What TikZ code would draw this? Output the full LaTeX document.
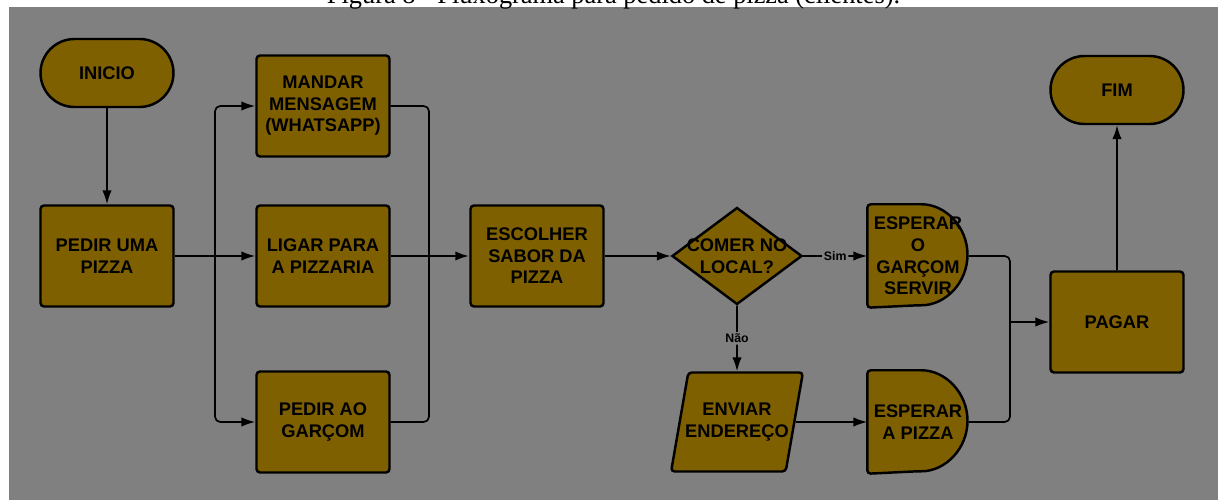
\documentclass[tikz,border=0pt]{standalone}
\usepackage{fontspec}
\setmainfont{Liberation Sans}
\newfontfamily\captionfont{Liberation Serif}
\usetikzlibrary{positioning}
\usetikzlibrary{calc}
\usetikzlibrary{arrows.meta,shapes.geometric,shapes.misc,backgrounds}

\definecolor{boxfill}{HTML}{7F6000}
\definecolor{bggray}{HTML}{808080}

\tikzset{
  boxline/.style={draw=black, line width=1.4pt, fill=boxfill},
  stepbox/.style={boxline, rectangle, rounded corners=2pt, minimum width=2.66cm, minimum height=2.02cm, align=center, inner sep=0pt, font=\fontsize{10.4}{12.3}\selectfont\bfseries},
  endbox/.style={stepbox, rounded rectangle, sharp corners, minimum height=1.36cm},
  choice/.style={stepbox, diamond, sharp corners, aspect=1, inner xsep=-0.6cm, minimum width=2.6cm, minimum height=1.94cm},
  inputbox/.style={stepbox, trapezium, trapezium left angle=76, trapezium right angle=104, trapezium stretches=true, minimum width=2.64cm, minimum height=1.98cm, inner xsep=-0.5cm},
  waitbox/.style={stepbox, draw=none, fill=none, minimum width=1.98cm},
  flow/.style={line width=0.95pt, rounded corners=3pt},
  trunk/.style={flow, line width=1.5pt},
  tag/.style={fill=bggray, inner sep=1pt, font=\fontsize{7}{8}\selectfont\bfseries}
}

\begin{document}
\begin{tikzpicture}[>={Latex[length=2.8mm,width=1.9mm]}]
\useasboundingbox (0,0) rectangle (24.36,-10);

\node[anchor=base, font=\captionfont\fontsize{15}{18}\selectfont] (titulo) at (12.27,-0.07){Figura 8 - Fluxograma para pedido de pizza (clientes).};

\node[endbox] (inicio) at (2.14,-1.46){INICIO};
\node[stepbox] (pedir) at (2.14,-5.12){PEDIR UMA\\PIZZA};
\node[stepbox] (mandar) at (6.46,-2.12){MANDAR\\MENSAGEM\\(WHATSAPP)};
\node[stepbox] (ligar) at (6.46,-5.12){LIGAR PARA\\A PIZZARIA};
\node[stepbox] (garcom) at (6.46,-8.44){PEDIR AO\\GARÇOM};
\node[stepbox] (sabor) at (10.74,-5.12){ESCOLHER\\SABOR DA\\PIZZA};
\node[choice] (local) at (14.74,-5.12){COMER NO\\LOCAL?};
\node[inputbox] (endereco) at (14.74,-8.44){ENVIAR\\ENDEREÇO};
\node[waitbox] (servir) at (18.36,-5.12){ESPERAR\\O\\GARÇOM\\SERVIR};
\node[waitbox] (espera) at (18.36,-8.44){ESPERAR\\A PIZZA};
\node[stepbox] (pagar) at (22.34,-6.44){PAGAR};
\node[endbox] (fim) at (22.34,-1.8){FIM};

\coordinate (splitL) at (4.30,-5.12);
\coordinate (joinL) at (8.58,-5.12);
\coordinate (joinR) at (20.2,-6.44);

\begin{scope}[on background layer]
\fill[bggray] (0.17,-0.14) rectangle (24.36,-10);
\foreach \w in {servir,espera}{
  \draw[boxline, rounded corners=2pt] (\w.north) arc[start angle=90, end angle=-90, x radius=0.99cm, y radius=1.01cm] -- (\w.south west) -- (\w.north west) -- cycle;
}
\end{scope}

\draw[flow,->] (inicio) -- (pedir);
\draw[trunk] (pedir) -- (splitL);
\draw[flow,->] (splitL) |- (mandar);
\draw[flow,->] (splitL) -- (ligar);
\draw[flow,->] (splitL) |- (garcom);
\draw[flow] (mandar) -| (joinL);
\draw[flow] (ligar) -- (joinL);
\draw[flow] (garcom) -| (joinL);
\draw[trunk,->] (joinL) -- (sabor);
\draw[flow,->] (sabor) -- (local);
\draw[flow,->] (local) -- node[tag]{Sim} (servir);
\draw[flow,->] (local) -- node[tag]{Não} (endereco);
\draw[flow,->] (endereco) -- (espera);
\draw[flow] (servir) -| (joinR);
\draw[flow] (espera) -| (joinR);
\draw[flow,->] (joinR) -- (pagar);
\draw[flow,->] (pagar) -- (fim);
\end{tikzpicture}
\end{document}
